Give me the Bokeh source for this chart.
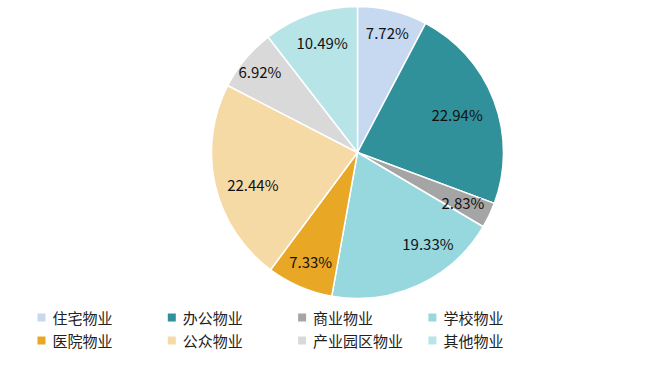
import math
from bokeh.plotting import figure
from bokeh.models import ColumnDataSource
from bokeh.core.properties import value
from bokeh.embed import file_html
from bokeh.resources import INLINE

categories = ["住宅物业", "办公物业", "商业物业", "学校物业", "医院物业", "公众物业", "产业园区物业", "其他物业"]
shares = [7.72, 22.94, 2.83, 19.33, 7.33, 22.44, 6.92, 10.49]
labels = ["7.72%", "22.94%", "2.83%", "19.33%", "7.33%", "22.44%", "6.92%", "10.49%"]
colors = ["#C6D9F1", "#31919A", "#A5A5A5", "#97D7DE", "#E9A726", "#F6DAA6", "#D9D9D9", "#B7E4E7"]
legend_order = [0, 1, 2, 3, 4, 5, 6, 7]

W, H = 655, 365
cx, cy, R = 357, 213, 146
label_frac = [0.85, 0.73, 0.80, 0.79, 0.81, 0.75, 0.87, 0.79]
label_dang = [0, 0, 0, -13, 0, -4, 0, 1]

p = figure(width=W, height=H, x_range=(0, W), y_range=(0, H),
           output_backend="svg", toolbar_location=None, min_border=0)
p.axis.visible = False
p.grid.visible = False
p.outline_line_color = None
p.background_fill_color = "white"

total = sum(shares)
starts, ends, lx, ly = [], [], [], []
cum = 0.0
for i, s in enumerate(shares):
    a0 = cum / total * 2 * math.pi
    a1 = (cum + s) / total * 2 * math.pi
    starts.append(math.pi / 2 - a0)
    ends.append(math.pi / 2 - a1)
    mid = (a0 + a1) / 2 + math.radians(label_dang[i])
    r = R * label_frac[i]
    lx.append(cx + r * math.sin(mid))
    ly.append(cy + r * math.cos(mid))
    cum += s

src = ColumnDataSource(dict(start=starts, end=ends, color=colors, lx=lx, ly=ly, label=labels))
p.wedge(x=cx, y=cy, radius=R, start_angle="start", end_angle="end", direction="clock",
        fill_color="color", line_color="white", line_width=1.5, source=src)
p.text(x="lx", y="ly", text="label", source=src, text_align="center", text_baseline="middle",
       text_font=value("Noto Sans CJK SC"), text_font_size="15px", text_color="#111111")

# legend
lgx, lgy, lgt = [], [], []
lcol = []
for k, idx in enumerate(legend_order):
    col, row = k % 4, k // 4
    x0 = 41 + 130.3 * col
    y0 = 48 - 23 * row
    lgx.append(x0)
    lgy.append(y0)
    lgt.append(categories[idx])
    lcol.append(colors[idx])
lsrc = ColumnDataSource(dict(x=lgx, y=lgy, tx=[v + 11 for v in lgx], t=lgt, c=lcol))
p.rect(x="x", y="y", width=8, height=8, fill_color="c", line_color=None, source=lsrc)
p.text(x="tx", y="y", text="t", source=lsrc, text_align="left", text_baseline="middle",
       text_font=value("Noto Sans CJK SC"), text_font_size="15px", text_color="#222222")

open("out.html", "w").write(file_html(p, INLINE))
